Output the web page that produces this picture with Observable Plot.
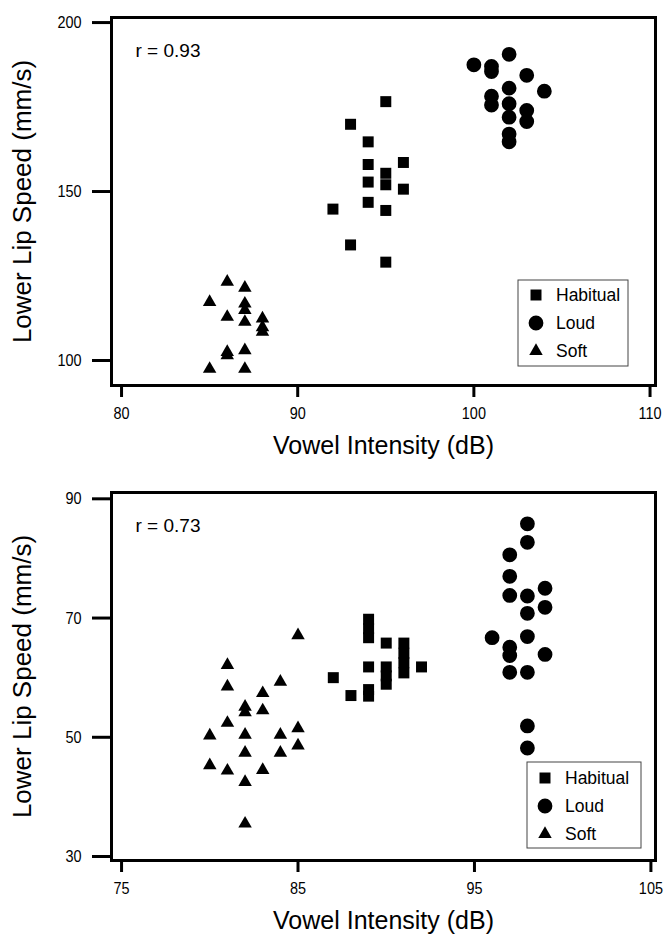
<!DOCTYPE html>
<html>
<head>
<meta charset="utf-8">
<script src="https://cdn.jsdelivr.net/npm/d3@7"></script>
<script src="https://cdn.jsdelivr.net/npm/@observablehq/plot@0.6"></script>
<style>
  html, body { margin: 0; padding: 0; background: white; }
  #chart > div, #chart svg { display: block; }
</style>
</head>
<body>
<div id="chart"></div>
<script>
// ---------- Data ----------
// Panel 1
const top_habitual_x = [95, 93, 94, 94, 96, 95, 95, 94, 96, 94, 92, 95, 93, 95];
const top_habitual_y = [176.6, 169.9, 164.7, 158.0, 158.6, 155.4, 152.0, 152.8, 150.7, 146.8, 144.8, 144.4, 134.2, 129.1];
const top_loud_x = [100, 101, 101, 102, 103, 104, 102, 101, 101, 102, 102, 103, 103, 102, 102];
const top_loud_y = [187.5, 187.0, 185.5, 190.6, 184.4, 179.7, 180.6, 178.2, 175.6, 176.0, 172.0, 174.0, 170.7, 167.0, 164.7];
const top_soft_x = [85, 86, 87, 87, 87, 87, 86, 88, 88, 88, 86, 86, 87, 85, 87];
const top_soft_y = [117.3, 123.3, 121.5, 116.8, 114.9, 111.4, 112.9, 112.4, 109.8, 108.5, 102.5, 101.5, 103.0, 97.5, 97.5];
const top_x_ticks = [80, 90, 100, 110];
const top_y_ticks = [100, 150, 200];
const top_r_label = "r = 0.93";

// Panel 2
const bot_habitual_x = [87, 88, 89, 89, 89, 89, 89, 89, 90, 90, 90, 90, 91, 91, 91, 91, 92];
const bot_habitual_y = [60.0, 57.0, 69.8, 68.2, 66.7, 61.8, 58.0, 56.9, 65.8, 61.8, 60.3, 58.9, 65.8, 64.1, 62.5, 60.8, 61.8];
const bot_loud_x = [98, 98, 97, 97, 97, 98, 99, 99, 98, 96, 98, 97, 97, 99, 97, 98, 98, 98];
const bot_loud_y = [85.8, 82.7, 80.6, 77.0, 73.8, 73.7, 75.0, 71.8, 70.8, 66.7, 66.9, 65.1, 63.7, 63.9, 60.9, 60.9, 51.9, 48.2];
const bot_soft_x = [85, 81, 81, 84, 83, 82, 82, 83, 81, 80, 82, 84, 85, 85, 82, 84, 80, 81, 83, 82, 82];
const bot_soft_y = [67.1, 62.1, 58.5, 59.3, 57.4, 55.1, 54.2, 54.5, 52.4, 50.3, 50.4, 50.4, 51.5, 48.6, 47.4, 47.4, 45.3, 44.4, 44.5, 42.5, 35.5];
const bot_x_ticks = [75, 85, 95, 105];
const bot_y_ticks = [30, 50, 70, 90];
const bot_r_label = "r = 0.73";

const groups = ["Habitual", "Loud", "Soft"];
const xTitle = "Vowel Intensity (dB)";
const yTitle = "Lower Lip Speed (mm/s)";

// ---------- Drawing ----------
const symbolOf = {Habitual: "square", Loud: "circle", Soft: "triangle"};
const radiusOf = {Habitual: 6.2, Loud: 7.4, Soft: 5.0};
const d3SymbolOf = {Habitual: d3.symbolSquare, Loud: d3.symbolCircle, Soft: d3.symbolTriangle};
const FONT = "'Liberation Sans', Arial, sans-serif";

function toRows(xs, ys, group) {
  return xs.map((x, i) => ({x, y: ys[i], group}));
}

function narrow(svg, selector, k) {
  svg.querySelectorAll(selector).forEach(t => {
    const tr = t.getAttribute("transform");
    if (tr && tr.includes("translate")) t.setAttribute("transform", tr + ` scale(${k},1)`);
  });
}

function panel(cfg) {
  const rows = [
    ...toRows(cfg.hx, cfg.hy, "Habitual"),
    ...toRows(cfg.lx, cfg.ly, "Loud"),
    ...toRows(cfg.sx, cfg.sy, "Soft")
  ];
  const svg = Plot.plot({
    width: 665,
    height: cfg.height,
    marginLeft: 111,
    marginRight: 10,
    marginTop: cfg.mt,
    marginBottom: cfg.mb,
    style: {fontFamily: FONT, background: "white", color: "black", overflow: "visible"},
    x: {domain: cfg.xDomain},
    y: {domain: cfg.yDomain},
    marks: [
      Plot.axisX({ticks: cfg.xTicks, tickSize: 12, tickPadding: 9, strokeWidth: 3, fontSize: 17, label: null, tickFormat: d => String(d)}),
      Plot.axisY({ticks: cfg.yTicks, tickSize: 19, tickPadding: 11, strokeWidth: 3, fontSize: 17, label: null, tickFormat: d => String(d)}),
      ...groups.map(g => Plot.dot(rows.filter(d => d.group === g), {
        x: "x", y: "y", symbol: () => symbolOf[g], fill: "black", stroke: "none", r: radiusOf[g]
      })),
      Plot.frame({stroke: "black", strokeWidth: 3}),
      Plot.text([cfg.rLabel], {text: d => d, frameAnchor: "top-left", textAnchor: "start", lineAnchor: "middle", dx: 24, dy: cfg.rdy, fontSize: 19}),
      Plot.text([xTitle], {text: d => d, frameAnchor: "bottom", textAnchor: "middle", lineAnchor: "middle", dy: 60, fontSize: 25}),
      Plot.text([yTitle], {text: d => d, frameAnchor: "left", textAnchor: "middle", lineAnchor: "middle", rotate: -90, dx: -89, fontSize: 26})
    ]
  });
  // slightly condensed tick labels, as in the reference
  narrow(svg, "g[aria-label='x-axis tick label'] text", 0.85);
  narrow(svg, "g[aria-label='y-axis tick label'] text", 0.85);

  // legend box
  const L = cfg.legend;
  const g = d3.select(svg).append("g").attr("font-family", FONT).attr("font-size", 17.5).attr("text-anchor", "start");
  g.append("rect").attr("x", L.x0).attr("y", L.y0).attr("width", L.x1 - L.x0).attr("height", L.y1 - L.y0)
    .attr("fill", "white").attr("stroke", "#444").attr("stroke-width", 1);
  groups.forEach((name, i) => {
    const cy = L.rows[i];
    g.append("path")
      .attr("transform", `translate(${L.sx},${cy})`)
      .attr("d", d3.symbol(d3SymbolOf[name], radiusOf[name] * radiusOf[name] * Math.PI)())
      .attr("fill", "black");
    g.append("text").attr("x", L.tx).attr("y", cy).attr("dy", "0.35em").attr("text-anchor", "start").attr("fill", "black").text(name);
  });
  return svg;
}

const chart = document.getElementById("chart");
chart.append(panel({
  hx: top_habitual_x, hy: top_habitual_y, lx: top_loud_x, ly: top_loud_y, sx: top_soft_x, sy: top_soft_y,
  xDomain: [79.43, 110.31], yDomain: [92.6, 201.5], xTicks: top_x_ticks, yTicks: top_y_ticks,
  rLabel: top_r_label, rdy: 33,
  height: 470, mt: 17, mb: 85,
  legend: {x0: 518, x1: 628, y0: 280, y1: 366, rows: [295, 323, 351], sx: 536, tx: 556}
}));
chart.append(panel({
  hx: bot_habitual_x, hy: bot_habitual_y, lx: bot_loud_x, ly: bot_loud_y, sx: bot_soft_x, sy: bot_soft_y,
  xDomain: [74.43, 105.26], yDomain: [29.33, 91.06], xTicks: bot_x_ticks, yTicks: bot_y_ticks,
  rLabel: bot_r_label, rdy: 33,
  height: 473, mt: 22, mb: 83,
  legend: {x0: 527, x1: 641, y0: 292, y1: 378, rows: [308, 336, 364], sx: 545, tx: 565}
}));
</script>
</body>
</html>
